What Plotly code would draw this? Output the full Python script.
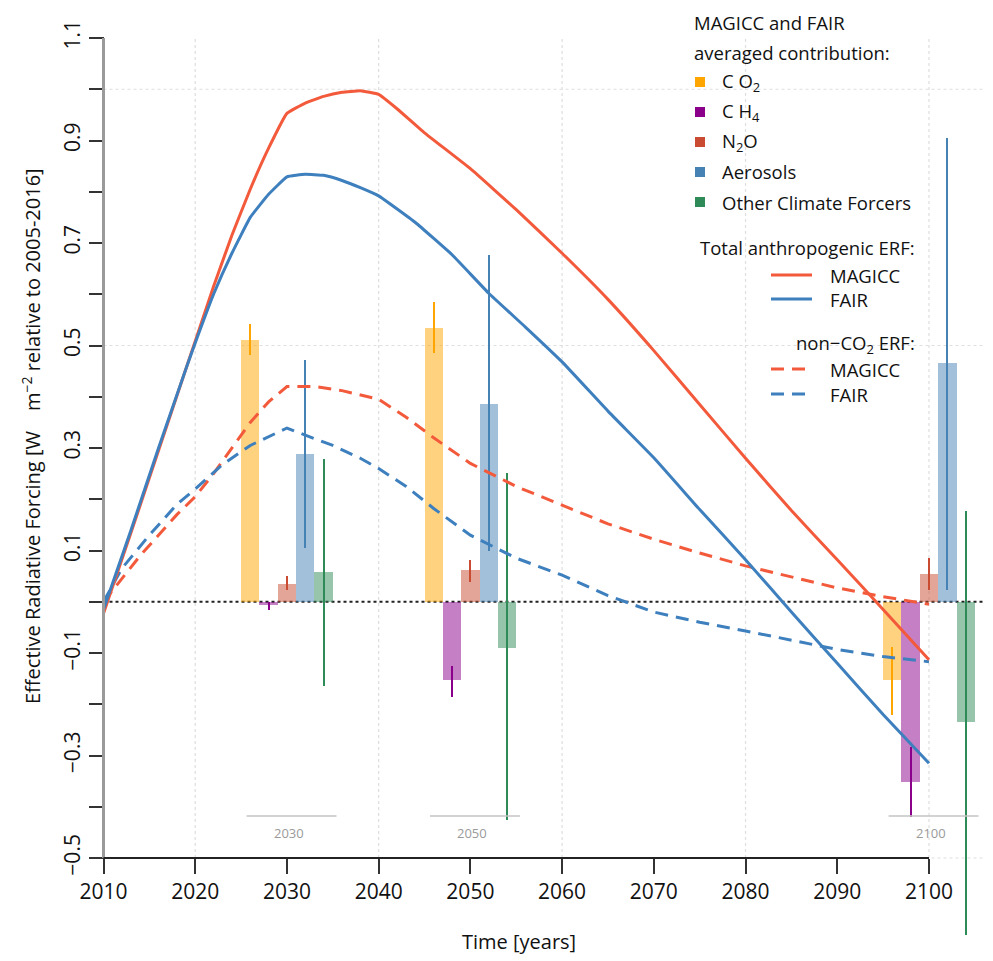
import plotly.graph_objects as go

# ---------------- data ----------------
years_magicc_total = [2010, 2013, 2016, 2019, 2022, 2024, 2026, 2028, 2030, 2032, 2034, 2036, 2038, 2040,
                      2042, 2045, 2050, 2055, 2060, 2065, 2070, 2075, 2080, 2085, 2090, 2095, 2100]
magicc_total = [-0.023, 0.135, 0.295, 0.455, 0.615, 0.715, 0.805, 0.885, 0.953, 0.973, 0.986, 0.994, 0.997, 0.99,
                0.962, 0.915, 0.845, 0.765, 0.68, 0.59, 0.49, 0.385, 0.28, 0.178, 0.082, -0.015, -0.113]

years_fair_total = [2010, 2013, 2016, 2019, 2020, 2022, 2024, 2026, 2028, 2030, 2032, 2034, 2036, 2038, 2040,
                    2044, 2048, 2052, 2056, 2060, 2065, 2070, 2075, 2080, 2085, 2090, 2095, 2100]
fair_total = [-0.015, 0.14, 0.3, 0.455, 0.505, 0.6, 0.68, 0.75, 0.795, 0.829, 0.834, 0.832, 0.822, 0.808, 0.792,
              0.74, 0.677, 0.602, 0.536, 0.468, 0.372, 0.281, 0.18, 0.082, -0.02, -0.12, -0.22, -0.315]

years_magicc_nonco2 = [2010, 2014, 2018, 2020, 2022, 2024, 2026, 2028, 2030, 2033, 2036, 2040, 2043, 2046, 2050,
                       2055, 2060, 2065, 2070, 2075, 2080, 2085, 2090, 2095, 2100]
magicc_nonco2 = [0.0, 0.09, 0.17, 0.205, 0.25, 0.3, 0.35, 0.39, 0.42, 0.42, 0.412, 0.395, 0.36, 0.32, 0.27,
                 0.225, 0.188, 0.152, 0.122, 0.095, 0.07, 0.048, 0.027, 0.01, -0.005]

years_fair_nonco2 = [2010, 2012, 2015, 2018, 2020, 2023, 2026, 2028, 2030, 2032, 2035, 2038, 2040, 2043, 2046,
                     2050, 2055, 2060, 2065, 2070, 2075, 2080, 2085, 2090, 2095, 2100]
fair_nonco2 = [0.0, 0.065, 0.13, 0.19, 0.22, 0.268, 0.305, 0.322, 0.339, 0.325, 0.305, 0.28, 0.26, 0.225, 0.182,
               0.13, 0.085, 0.052, 0.012, -0.02, -0.04, -0.057, -0.075, -0.093, -0.107, -0.117]

groups = [2030, 2050, 2100]
species = ["CO2", "CH4", "N2O", "Aerosols", "Other Climate Forcers"]
offsets = [-4, -2, 0, 2, 4]
bar_vals = {
    "CO2": [0.511, 0.535, -0.153],
    "CH4": [-0.006, -0.153, -0.351],
    "N2O": [0.035, 0.061, 0.054],
    "Aerosols": [0.288, 0.386, 0.466],
    "Other Climate Forcers": [0.058, -0.09, -0.235],
}
bar_lo = {
    "CO2": [0.481, 0.486, -0.221],
    "CH4": [-0.016, -0.186, -0.42],
    "N2O": [0.023, 0.039, 0.023],
    "Aerosols": [0.105, 0.10, 0.023],
    "Other Climate Forcers": [-0.165, -0.426, -0.65],
}
bar_hi = {
    "CO2": [0.542, 0.585, -0.088],
    "CH4": [-0.001, -0.126, -0.283],
    "N2O": [0.05, 0.081, 0.085],
    "Aerosols": [0.472, 0.676, 0.905],
    "Other Climate Forcers": [0.278, 0.251, 0.178],
}
legend_labels = ["C O<sub>2</sub>", "C H<sub>4</sub>", "N<sub>2</sub>O", "Aerosols", "Other Climate Forcers"]

x_ticks = list(range(2010, 2101, 10))
y_ticks = [-0.5, -0.3, -0.1, 0.1, 0.3, 0.5, 0.7, 0.9, 1.1]
y_ticktext = [("%g" % v).replace("-", "\u2212") for v in y_ticks]
y_minor_ticks = [-0.4, -0.2, 0.0, 0.2, 0.4, 0.6, 0.8, 1.0]

# ---------------- styles ----------------
PAGE_W, PAGE_H = 993, 961
OFF = 8  # page body margin
W, H = PAGE_W - OFF, PAGE_H - OFF
FONT = "Open Sans"
colors = {
    "CO2": (255, 165, 0),
    "CH4": (139, 0, 139),
    "N2O": (200, 75, 50),
    "Aerosols": (70, 130, 180),
    "Other Climate Forcers": (46, 139, 87),
}
RED = "#F35A3C"
BLUE = "#3E7FBE"

# axis ranges chosen so the plot area fills the figure (page px -> data)
X_PX0, X_PER_YEAR = 103.5, 9.172
Y_PX0, Y_PER_UNIT = 601.75, 512.5
XR = [2010 + (OFF - X_PX0) / X_PER_YEAR, 2010 + (PAGE_W - X_PX0) / X_PER_YEAR]
YR = [(Y_PX0 - PAGE_H) / Y_PER_UNIT, (Y_PX0 - OFF) / Y_PER_UNIT]


def px_to_paper(px, py):
    return (px - OFF) / W, 1 - (py - OFF) / H


fig = go.Figure()

for k, sp in enumerate(species):
    r, g, b = colors[sp]
    xs = [gr + offsets[k] for gr in groups]
    vals = bar_vals[sp]
    fig.add_trace(go.Bar(
        x=xs, y=vals, width=2,
        marker=dict(color="rgba(%d,%d,%d,0.5)" % (r, g, b), line=dict(width=0)),
        error_y=dict(type="data", symmetric=False,
                     array=[h - v for h, v in zip(bar_hi[sp], vals)],
                     arrayminus=[v - l for l, v in zip(bar_lo[sp], vals)],
                     color="rgb(%d,%d,%d)" % (r, g, b), thickness=2, width=0),
        showlegend=False,
    ))

DASH = "13px,8px"
fig.add_trace(go.Scatter(x=years_magicc_nonco2, y=magicc_nonco2, mode="lines",
                         line=dict(color=RED, width=3, dash=DASH), showlegend=False))
fig.add_trace(go.Scatter(x=years_fair_nonco2, y=fair_nonco2, mode="lines",
                         line=dict(color=BLUE, width=3, dash=DASH), showlegend=False))
fig.add_trace(go.Scatter(x=years_magicc_total, y=magicc_total, mode="lines",
                         line=dict(color=RED, width=3, shape="spline", smoothing=0.3), showlegend=False))
fig.add_trace(go.Scatter(x=years_fair_total, y=fair_total, mode="lines",
                         line=dict(color=BLUE, width=3, shape="spline", smoothing=0.3), showlegend=False))

shapes = []
GRID = dict(color="#dedede", width=1.2, dash="dot")
for yv in [-0.5, 0.5, 1.0]:
    shapes.append(dict(type="line", xref="x", yref="y", x0=2010, x1=XR[1], y0=yv, y1=yv,
                       line=GRID, layer="below"))
for xv in range(2020, 2101, 20):
    shapes.append(dict(type="line", xref="x", yref="y", x0=xv, x1=xv, y0=-0.5, y1=1.1,
                       line=GRID, layer="below"))
shapes.append(dict(type="line", xref="x", yref="y", x0=2010, x1=XR[1], y0=0, y1=0,
                   line=dict(color="#222222", width=1.8, dash="dot"), layer="below"))
shapes.append(dict(type="line", xref="x", yref="y", x0=2010, x1=2010, y0=-0.5, y1=1.1,
                   line=dict(color="#9a9a9a", width=3)))
shapes.append(dict(type="line", xref="x", yref="y", x0=2010, x1=2100, y0=-0.5, y1=-0.5,
                   line=dict(color="#222222", width=2)))

annotations = []
for gr in groups:
    shapes.append(dict(type="line", xref="x", yref="y", x0=gr - 4.4, x1=gr + 5.4, y0=-0.418, y1=-0.418,
                       line=dict(color="#c4c4c4", width=1.5)))
    annotations.append(dict(x=gr + 0.2, y=-0.452, xref="x", yref="y", text=str(gr), showarrow=False,
                            xanchor="center", yanchor="middle",
                            font=dict(family=FONT, size=13, color="#9a9a9a")))


def ann_px(px, py, text, xanchor="left", size=18.5, angle=0):
    x, y = px_to_paper(px, py)
    annotations.append(dict(x=x, y=y, xref="paper", yref="paper", text=text, showarrow=False,
                            xanchor=xanchor, yanchor="middle", textangle=angle,
                            font=dict(family=FONT, size=size, color="#111")))


# axis titles
ann_px(519, 941, "Time [years]", xanchor="center", size=20)
ann_px(31, 436, "Effective Radiative Forcing [W\u2002\u2002m<sup>\u22122</sup> relative to 2005-2016]",
       xanchor="center", size=20, angle=-90)

# legend (manual)
ann_px(692, 22, "MAGICC and FAIR")
ann_px(692, 52, "averaged contribution:")
for k, sp in enumerate(species):
    cy = 82 + 30 * k
    r, g, b = colors[sp]
    x0, y0 = px_to_paper(695, cy - 5)
    x1, y1 = px_to_paper(705, cy + 5)
    shapes.append(dict(type="rect", xref="paper", yref="paper", x0=x0, x1=x1, y0=y0, y1=y1,
                       fillcolor="rgb(%d,%d,%d)" % (r, g, b), line=dict(width=0)))
    ann_px(720, cy, legend_labels[k])

ann_px(917, 247, "Total anthropogenic ERF:", xanchor="right")
ann_px(917, 344, "non\u2212CO<sub>2</sub> ERF:", xanchor="right")
for cy, col, dash, txt in [(275, RED, "solid", "MAGICC"), (299, BLUE, "solid", "FAIR"),
                           (369, RED, DASH, "MAGICC"), (394, BLUE, DASH, "FAIR")]:
    x0, y0 = px_to_paper(771, cy)
    x1, _ = px_to_paper(812 if dash == "solid" else 806, cy)
    shapes.append(dict(type="line", xref="paper", yref="paper", x0=x0, x1=x1, y0=y0, y1=y0,
                       line=dict(color=col, width=3, dash=dash)))
    ann_px(828, cy, txt)

ypos_x = (2010 - XR[0]) / (XR[1] - XR[0])
xpos_y = (-0.5 - YR[0]) / (YR[1] - YR[0])

fig.update_layout(
    width=W, height=H,
    margin=dict(l=0, r=0, t=0, b=0),
    paper_bgcolor="white", plot_bgcolor="white",
    barmode="overlay", bargap=0,
    showlegend=False,
    font=dict(family=FONT, color="#111"),
    shapes=shapes, annotations=annotations,
    xaxis=dict(range=XR, anchor="free", position=xpos_y, tickmode="array", tickvals=x_ticks,
               ticks="outside", ticklen=15, tickwidth=2, tickcolor="#333", showline=False,
               showgrid=False, zeroline=False, tickfont=dict(family=FONT, size=21, color="#111"),
               automargin=False),
    yaxis=dict(range=YR, anchor="free", position=ypos_x, tickmode="array", tickvals=y_ticks,
               ticktext=y_ticktext, ticks="outside", ticklen=15, tickwidth=2, tickcolor="#333",
               showline=False, showgrid=False, zeroline=False, tickangle=-90,
               minor=dict(tickmode="array", tickvals=y_minor_ticks, ticks="outside", ticklen=15,
                          tickwidth=2, tickcolor="#333", showgrid=False),
               tickfont=dict(family=FONT, size=21, color="#111"), automargin=False),
)

fig.write_html("out.html")
